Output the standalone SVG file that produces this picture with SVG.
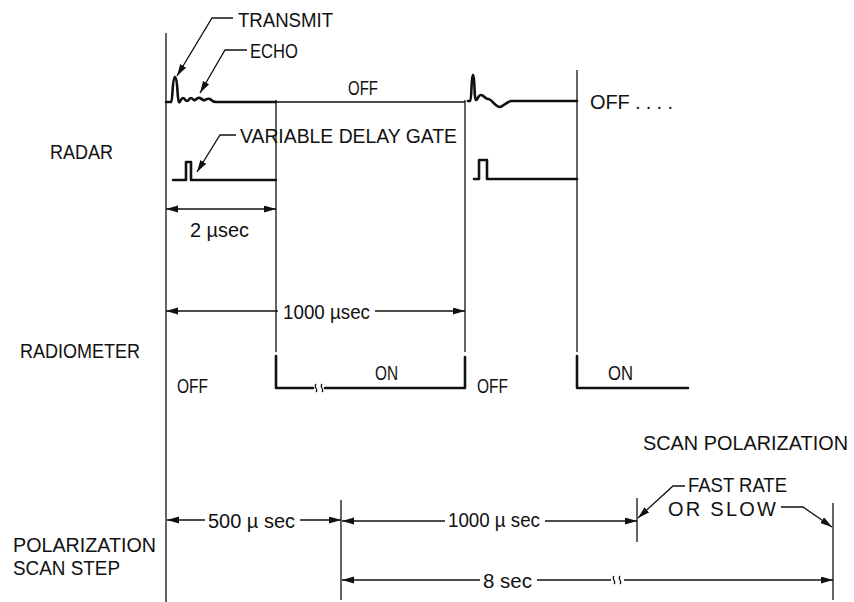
<svg xmlns="http://www.w3.org/2000/svg" width="854" height="602" viewBox="0 0 854 602">
<style>
text{font-family:"Liberation Sans",Arial,sans-serif;font-size:20px;fill:#111}
.thin{stroke:#111;stroke-width:1.3;fill:none}
.wave{stroke:#111;stroke-width:2.6;fill:none;stroke-linejoin:round;stroke-linecap:round}
.dim{stroke:#111;stroke-width:1.4;fill:none}
.brk{stroke:#111;stroke-width:1.2;fill:none}
.arr{marker-end:url(#ah)}
.arrs{marker-start:url(#ah)}
</style>
<defs>
<marker id="ah" markerUnits="userSpaceOnUse" markerWidth="13" markerHeight="8" refX="12" refY="3.5" orient="auto-start-reverse">
<path d="M0,0 L12,3.5 L0,7 z" fill="#111"/>
</marker>
</defs>
<rect width="854" height="602" fill="#fff"/>

<g id="row-labels">
<text x="50" y="159" textLength="63" lengthAdjust="spacingAndGlyphs">RADAR</text>
<text x="20" y="358" textLength="120" lengthAdjust="spacingAndGlyphs">RADIOMETER</text>
<text x="13" y="552" textLength="143" lengthAdjust="spacingAndGlyphs">POLARIZATION</text>
<text x="13" y="575" textLength="107" lengthAdjust="spacingAndGlyphs">SCAN STEP</text>
</g>

<g id="time-markers">
<line class="thin" x1="166" y1="33" x2="166" y2="602"/>
<line class="thin" x1="276" y1="100" x2="276" y2="352"/>
<line class="thin" x1="465" y1="100" x2="465" y2="352"/>
<line class="thin" x1="577" y1="70" x2="577" y2="352"/>
<line class="thin" x1="341" y1="500" x2="341" y2="600"/>
<line class="thin" x1="637" y1="498" x2="637" y2="542"/>
<line class="thin" x1="833" y1="503" x2="833" y2="600"/>
</g>

<g id="radar">
<path class="wave" d="M166,102 L171,102 C173,101 172,78 175,77 C178,78 177,100 179,102 C180,103 181,98 183,98 C185,98 185,101 187,101 C189,101 189,98 191,98 C193,98 193,101 195,100 C197,99 198,97 200,98 C202,99 203,101 205,100 C207,99 208,98 210,99 C212,101 213,102 216,102 L276,102"/>
<line class="thin" x1="276" y1="102" x2="465" y2="102"/>
<path class="wave" d="M468,101 L470,101 C472,100 471,76 473,75 C475,76 474,100 476,100 C478,100 478,95 481,95 C484,95 485,99 488,99 C492,99 495,107 500,107 C503,107 506,102 511,101 L577,101"/>
<path class="wave" d="M173,180 L186,180 L186,162 L191,162 L191,180 L276,180"/>
<path class="wave" d="M474,179 L479,179 L479,160 L487,160 L487,179 L577,179"/>
<text x="348" y="95" textLength="30" lengthAdjust="spacingAndGlyphs">OFF</text>
<text x="590" y="109" textLength="83" lengthAdjust="spacing">OFF . . . .</text>
</g>

<g id="radar-callouts">
<text x="238" y="27" textLength="95" lengthAdjust="spacingAndGlyphs">TRANSMIT</text>
<text x="250" y="58" textLength="48" lengthAdjust="spacingAndGlyphs">ECHO</text>
<text x="240" y="143" textLength="217" lengthAdjust="spacingAndGlyphs">VARIABLE DELAY GATE</text>
</g>

<g id="radiometer">
<path class="wave" d="M276,356 L276,388 L313,388"/>
<path class="wave" d="M325,388 L465,388 L465,357"/>
<path class="brk" d="M316,392 c3,-2 -3,-5 0,-8 M322,392 c3,-2 -3,-5 0,-8"/>
<path class="wave" d="M577,356 L577,388 L688,388"/>
<text x="177" y="393" textLength="31" lengthAdjust="spacingAndGlyphs">OFF</text>
<text x="375" y="380" textLength="23" lengthAdjust="spacingAndGlyphs">ON</text>
<text x="477" y="393" textLength="31" lengthAdjust="spacingAndGlyphs">OFF</text>
<text x="608" y="380" textLength="25" lengthAdjust="spacingAndGlyphs">ON</text>
</g>

<g id="polarization-labels">
<text x="643" y="450" textLength="205" lengthAdjust="spacingAndGlyphs">SCAN POLARIZATION</text>
<text x="688" y="492" textLength="99" lengthAdjust="spacingAndGlyphs">FAST RATE</text>
<text x="668" y="516" textLength="108" lengthAdjust="spacing">OR SLOW</text>
</g>

<g id="dimension-labels">
<text x="190" y="237" textLength="59" lengthAdjust="spacingAndGlyphs">2 µsec</text>
<text x="283" y="319" textLength="87" lengthAdjust="spacingAndGlyphs">1000 µsec</text>
<text x="208" y="528" textLength="87" lengthAdjust="spacingAndGlyphs">500 µ sec</text>
<text x="448" y="527" textLength="92" lengthAdjust="spacingAndGlyphs">1000 µ sec</text>
<text x="483" y="588" textLength="49" lengthAdjust="spacingAndGlyphs">8 sec</text>
</g>

<g id="connectors">
<polyline class="thin arr" points="233,18 212,18 177,76"/>
<polyline class="thin arr" points="247,50 225,50 200,93"/>
<polyline class="thin arr" points="236,135 220,135 197,172"/>
<polyline class="thin arr" points="685,486 673,486 638,518"/>
<polyline class="thin arr" points="781,507 803,507 832,527"/>
<line class="dim arrs arr" x1="166" y1="209" x2="276" y2="209"/>
<line class="dim arrs" x1="166" y1="311" x2="278" y2="311"/>
<line class="dim arr" x1="375" y1="311" x2="465" y2="311"/>
<line class="dim arrs" x1="167" y1="520" x2="205" y2="520"/>
<line class="dim arr" x1="300" y1="520" x2="341" y2="520"/>
<line class="dim arrs" x1="342" y1="521" x2="445" y2="521"/>
<line class="dim arr" x1="545" y1="521" x2="637" y2="521"/>
<line class="dim arrs" x1="342" y1="580" x2="480" y2="580"/>
<line class="dim" x1="537" y1="580" x2="611" y2="580"/>
<path class="brk" d="M614,584 c3,-2 -3,-5 0,-8 M620,584 c3,-2 -3,-5 0,-8"/>
<line class="dim arr" x1="624" y1="580" x2="833" y2="580"/>
</g>
</svg>
